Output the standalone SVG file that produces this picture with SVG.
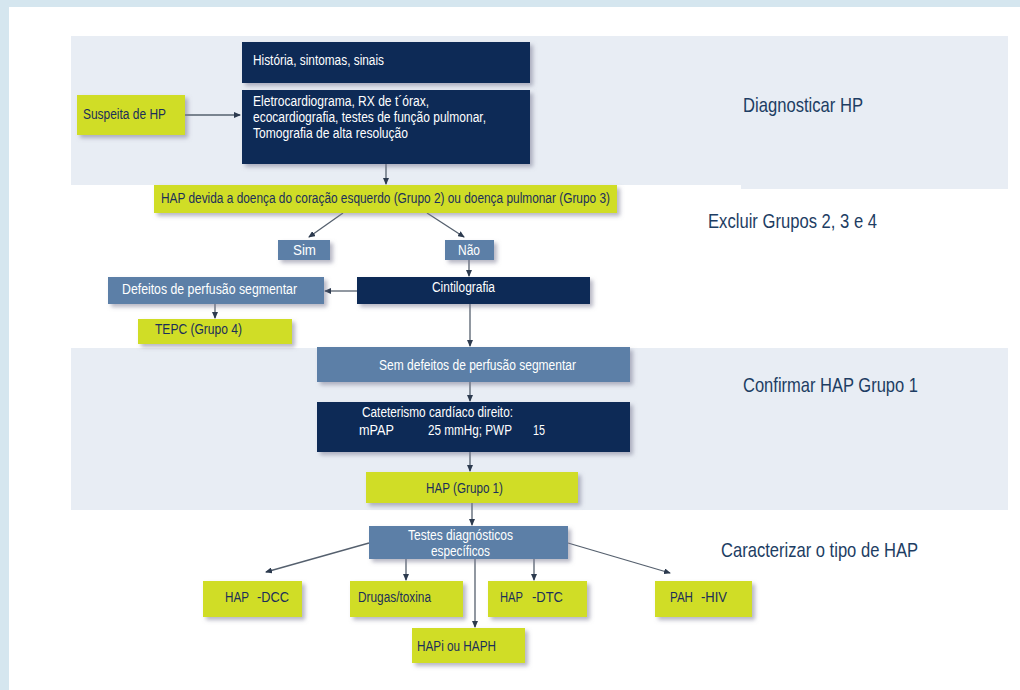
<svg xmlns="http://www.w3.org/2000/svg" width="1020" height="690" viewBox="0 0 1020 690">
<style>
text{font-family:"Liberation Sans",Arial,sans-serif}
.navy{fill:#0c2b56}
.steel{fill:#5b7fa7}
.yel{fill:#d0dd25}
.wt{fill:#ffffff;font-size:14px}
.dt{fill:#1b2f5a;font-size:14px}
.lbl{fill:#1d3d63;font-size:21px}
.band{fill:#e8edf4}
.conn line{stroke:#55606e;stroke-width:1.3;marker-end:url(#ah)}
</style>
<defs>
<filter id="sh" x="-10%" y="-20%" width="130%" height="160%">
<feDropShadow dx="3" dy="3" stdDeviation="2" flood-color="#7a7a92" flood-opacity="0.55"/>
</filter>
<marker id="ah" markerWidth="7" markerHeight="6" refX="6" refY="3" orient="auto" markerUnits="userSpaceOnUse">
<path d="M0,0 L7,3 L0,6 Z" fill="#2c3a4e"/>
</marker>
</defs>
<rect x="0" y="0" width="1020" height="690" fill="#d5e6ef"/>
<rect x="9" y="7" width="1011" height="683" fill="#ffffff"/>
<rect class="band" x="71" y="36" width="937" height="149"/>
<rect class="band" x="741" y="150" width="267" height="39"/>
<rect class="band" x="71" y="348" width="937" height="162"/>

<text class="lbl" x="743" y="112" textLength="120" lengthAdjust="spacingAndGlyphs">Diagnosticar HP</text>
<text class="lbl" x="708" y="228" textLength="169" lengthAdjust="spacingAndGlyphs">Excluir Grupos 2, 3 e 4</text>
<text class="lbl" x="743" y="392" textLength="175" lengthAdjust="spacingAndGlyphs">Confirmar HAP Grupo 1</text>
<text class="lbl" x="721" y="557" textLength="197" lengthAdjust="spacingAndGlyphs">Caracterizar o tipo de HAP</text>

<g class="conn" id="connectors">
<line x1="185" y1="115" x2="240" y2="115"/>
<line x1="386" y1="164" x2="386" y2="184"/>
<line x1="343" y1="213" x2="309" y2="237"/>
<line x1="427" y1="213" x2="464" y2="237"/>
<line x1="469" y1="260" x2="469" y2="276"/>
<line x1="357" y1="291" x2="325" y2="291"/>
<line x1="215" y1="304" x2="215" y2="318"/>
<line x1="470" y1="304" x2="470" y2="346"/>
<line x1="470" y1="382" x2="470" y2="401"/>
<line x1="470" y1="452" x2="470" y2="471"/>
<line x1="472" y1="503" x2="472" y2="525"/>
<line x1="369" y1="543" x2="266" y2="572"/>
<line x1="406" y1="559" x2="406" y2="580"/>
<line x1="475" y1="559" x2="475" y2="627"/>
<line x1="534" y1="559" x2="534" y2="580"/>
<line x1="568" y1="543" x2="670" y2="573"/>
</g>

<g id="historia"><rect class="navy" x="242" y="42" width="288" height="41" filter="url(#sh)"/>
<text class="wt" x="253" y="65" textLength="131" lengthAdjust="spacingAndGlyphs">História, sintomas, sinais</text></g>

<g id="exames"><rect class="navy" x="242" y="90" width="288" height="74" filter="url(#sh)"/>
<text class="wt" x="253" y="106" textLength="176" lengthAdjust="spacingAndGlyphs">Eletrocardiograma, RX de t´órax,</text>
<text class="wt" x="253" y="122" textLength="233" lengthAdjust="spacingAndGlyphs">ecocardiografia, testes de função pulmonar,</text>
<text class="wt" x="253" y="138" textLength="155" lengthAdjust="spacingAndGlyphs">Tomografia de alta resolução</text></g>

<g id="suspeita"><rect class="yel" x="77" y="95" width="108" height="40" filter="url(#sh)"/>
<text class="dt" x="83" y="119" textLength="83" lengthAdjust="spacingAndGlyphs">Suspeita de HP</text></g>

<g id="hap-devida"><rect class="yel" x="154" y="185" width="463" height="28" filter="url(#sh)"/>
<text class="dt" x="161" y="203" textLength="449" lengthAdjust="spacingAndGlyphs">HAP devida a doença do coração esquerdo (Grupo 2) ou  doença pulmonar (Grupo 3)</text></g>

<g id="sim"><rect class="steel" x="278" y="240" width="52" height="20" filter="url(#sh)"/>
<text class="wt" x="293" y="255" textLength="23" lengthAdjust="spacingAndGlyphs">Sim</text></g>

<g id="nao"><rect class="steel" x="445" y="240" width="49" height="20" filter="url(#sh)"/>
<text class="wt" x="458" y="255" textLength="22" lengthAdjust="spacingAndGlyphs">Não</text></g>

<g id="cintilografia"><rect class="navy" x="357" y="277" width="233" height="27" filter="url(#sh)"/>
<text class="wt" x="432" y="292" textLength="63" lengthAdjust="spacingAndGlyphs">Cintilografia</text></g>

<g id="defeitos"><rect class="steel" x="108" y="277" width="216" height="27" filter="url(#sh)"/>
<text class="wt" x="122" y="294" textLength="175" lengthAdjust="spacingAndGlyphs">Defeitos de  perfusão  segmentar</text></g>

<g id="tepc"><rect class="yel" x="138" y="319" width="154" height="25" filter="url(#sh)"/>
<text class="dt" x="155" y="334" textLength="87" lengthAdjust="spacingAndGlyphs">TEPC (Grupo 4)</text></g>

<g id="sem-defeitos"><rect class="steel" x="317" y="347" width="313" height="35" filter="url(#sh)"/>
<text class="wt" x="379" y="370" textLength="197" lengthAdjust="spacingAndGlyphs">Sem defeitos de perfusão  segmentar</text></g>

<g id="cateterismo"><rect class="navy" x="317" y="402" width="313" height="50" filter="url(#sh)"/>
<text class="wt" x="362" y="417" textLength="151" lengthAdjust="spacingAndGlyphs">Cateterismo cardíaco direito:</text>
<text class="wt" y="435"><tspan x="359" textLength="35" lengthAdjust="spacingAndGlyphs">mPAP</tspan><tspan x="428" textLength="84" lengthAdjust="spacingAndGlyphs">25 mmHg; PWP</tspan><tspan x="533" textLength="12" lengthAdjust="spacingAndGlyphs">15</tspan></text></g>

<g id="hap-grupo1"><rect class="yel" x="366" y="472" width="212" height="31" filter="url(#sh)"/>
<text class="dt" x="426" y="493" textLength="77" lengthAdjust="spacingAndGlyphs">HAP (Grupo 1)</text></g>

<g id="testes"><rect class="steel" x="369" y="526" width="199" height="33" filter="url(#sh)"/>
<text class="wt" x="408" y="540" textLength="105" lengthAdjust="spacingAndGlyphs">Testes diagnósticos</text>
<text class="wt" x="431" y="556" textLength="59" lengthAdjust="spacingAndGlyphs">específicos</text></g>

<g id="hap-dcc"><rect class="yel" x="203" y="581" width="99" height="36" filter="url(#sh)"/>
<text class="dt" y="602"><tspan x="225" textLength="24" lengthAdjust="spacingAndGlyphs">HAP</tspan><tspan x="257" textLength="32" lengthAdjust="spacingAndGlyphs">-DCC</tspan></text></g>

<g id="drugas"><rect class="yel" x="350" y="581" width="113" height="36" filter="url(#sh)"/>
<text class="dt" x="358" y="602" textLength="73" lengthAdjust="spacingAndGlyphs">Drugas/toxina</text></g>

<g id="hap-dtc"><rect class="yel" x="488" y="581" width="99" height="36" filter="url(#sh)"/>
<text class="dt" y="602"><tspan x="500" textLength="23" lengthAdjust="spacingAndGlyphs">HAP</tspan><tspan x="532" textLength="31" lengthAdjust="spacingAndGlyphs">-DTC</tspan></text></g>

<g id="pah-hiv"><rect class="yel" x="655" y="581" width="97" height="36" filter="url(#sh)"/>
<text class="dt" y="602"><tspan x="670" textLength="23" lengthAdjust="spacingAndGlyphs">PAH</tspan><tspan x="701" textLength="26" lengthAdjust="spacingAndGlyphs">-HIV</tspan></text></g>

<g id="hapi-haph"><rect class="yel" x="412" y="628" width="113" height="35" filter="url(#sh)"/>
<text class="dt" x="417" y="651" textLength="79" lengthAdjust="spacingAndGlyphs">HAPi ou HAPH</text></g>
</svg>
